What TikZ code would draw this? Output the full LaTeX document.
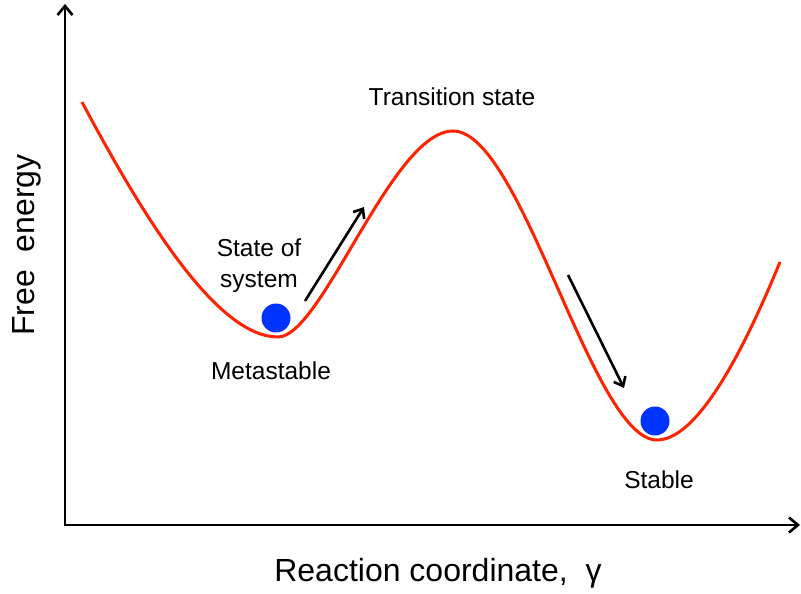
\documentclass[tikz,border=0pt]{standalone}
\usepackage{fontspec}
\setmainfont{Liberation Sans}
\usetikzlibrary{arrows.meta}
\definecolor{curvered}{RGB}{255,34,0}
\definecolor{ballblue}{RGB}{0,51,255}
\tikzset{
  axis line/.style={
    draw=black, line width=2.6pt,
    -{Straight Barb[length=9pt, width=15pt, line width=2.6pt]}
  },
  energy curve/.style={
    draw=curvered, line width=3pt
  },
  ball/.style={
    circle, fill=ballblue, inner sep=0pt, minimum size=29pt
  },
  move arrow/.style={
    draw=black, line width=2.6pt,
    -{Straight Barb[length=8pt, width=13pt, line width=2.6pt]}
  },
  state label/.style={
    font=\fontsize{24.5}{31}\selectfont, align=center, inner sep=0pt
  },
  axis label/.style={
    font=\fontsize{32}{36}\selectfont, inner sep=0pt
  }
}

\begin{document}
\begin{tikzpicture}[x=1pt, y=-1pt]
\useasboundingbox (0,0) rectangle (801,594);
% ------------------------------------------------
% axes
% ------------------------------------------------
\coordinate (O)  at (65,525);
\coordinate (yT) at (65,4);
\coordinate (xR) at (800,525);
\draw[axis line] ([yshift=-1.3pt]O) -- (yT);
\draw[axis line] ([xshift=-1.3pt]O) -- (xR);
\node[axis label, rotate=90] (ylab) at (27,245) {Free\ \ energy};
\node[axis label] (xlab) at (438,573) {Reaction coordinate,\ \ γ};

% ------------------------------------------------
% free energy curve: two wells and one barrier
% ------------------------------------------------
\coordinate (cStart) at (82,102);
\coordinate (cMeta)  at (278,337);
\coordinate (cTop)   at (453,131);
\coordinate (cStab)  at (657,440);
\coordinate (cEnd)   at (780,262);
\draw[energy curve]
  (cStart) .. controls (150,230) and (220,337) .. (cMeta)
           .. controls (322,337) and (392,131) .. (cTop)
           .. controls (522,131) and (592,440) .. (cStab)
           .. controls (702,440) and (752,330) .. (cEnd);

% ------------------------------------------------
% system state balls and moves
% ------------------------------------------------
\node[ball] (bMeta) at (276,318) {};
\node[ball] (bStab) at (655,421) {};

\coordinate (m1a) at (305,301);
\coordinate (m1b) at (364,207);
\coordinate (m2a) at (568,275);
\coordinate (m2b) at (624,388);
\draw[move arrow] (m1a) -- (m1b);
\draw[move arrow] (m2a) -- (m2b);

\node[state label] (tsLab)   at (452,97)  {Transition state};
\node[state label] (sysLab)  at (259,266) {State of\\system};
\node[state label] (metaLab) at (271,371) {Metastable};
\node[state label] (stabLab) at (659,480) {Stable};
\end{tikzpicture}
\end{document}
